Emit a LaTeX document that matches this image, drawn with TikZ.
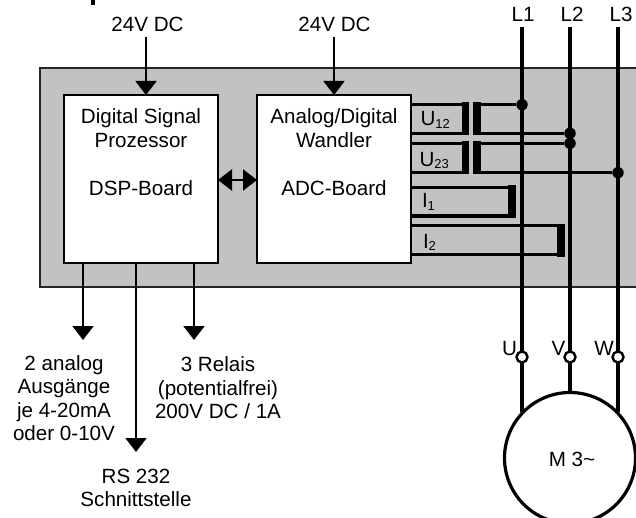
\documentclass[tikz,border=0pt]{standalone}
\usepackage{fontspec}
\setmainfont{Liberation Sans}
\usetikzlibrary{arrows.meta}
\newcommand{\subsc}[1]{{\fontsize{13}{13}\selectfont\raisebox{-2.5pt}{#1}}}
\tikzset{
  txt/.style={font=\fontsize{20.6}{23.8}\selectfont,inner sep=0pt,outer sep=0pt,align=center,text=black},
  lbl/.style={txt,anchor=base},
  lblw/.style={txt,anchor=base west},
  boardbox/.style={draw=black,line width=1.7pt,fill=white,minimum width=154pt,minimum height=168pt,inner sep=0pt,outer sep=0pt},
  panel/.style={draw=black!85,line width=1.4pt,fill=black!24},
  arrowline/.style={line width=2pt,-{Triangle[width=21pt,length=14pt]}},
  dblarrow/.style={line width=2.4pt,{Triangle[width=21pt,length=14pt]}-{Triangle[width=21pt,length=14pt]}},
  wire/.style={line width=3.2pt,draw=black},
  bar/.style={fill=black,minimum width=7.6pt,minimum height=33pt,inner sep=0pt,outer sep=0pt},
  dot/.style={circle,fill=black,minimum size=11.5pt,inner sep=0pt,outer sep=0pt},
  terminal/.style={circle,draw=black,line width=2.4pt,fill=white,minimum size=11pt,inner sep=0pt,outer sep=0pt},
  motorc/.style={circle,draw=black,line width=3.2pt,fill=white,minimum size=131pt,inner sep=0pt,outer sep=0pt}
}
\begin{document}
\begin{tikzpicture}[x=1pt,y=-1pt]
\useasboundingbox (0,0) rectangle (636,518);
\clip (0,0) rectangle (636,518);
\fill[white] (0,0) rectangle (636,518);
\fill[black] (91.3,0) rectangle (94.5,5);
\draw[panel] (40,68) rectangle (645,287);
% boards
\node[boardbox] (dsp) at (141,179) {};
\node[boardbox] (adc) at (334,179) {};
\node[lbl] at (141,124) {Digital Signal};
\node[lbl] at (141,148) {Prozessor};
\node[lbl] at (141,196) {DSP-Board};
\node[lbl] at (334,124) {Analog/Digital};
\node[lbl] at (334,148) {Wandler};
\node[lbl] at (334,196) {ADC-Board};
% supplies
\node[lbl] (s1) at (147.5,32) {24V DC};
\node[lbl] (s2) at (334.5,32) {24V DC};
\coordinate (s1e) at (146,37);
\coordinate (s2e) at (334,37);
\draw[arrowline] (s1e) -- (s1e |- dsp.north);
\draw[arrowline] (s2e) -- (s2e |- adc.north);
% board link
\draw[dblarrow] (dsp.east |- 0,180) -- (adc.west |- 0,180);
% outputs
\coordinate (o1) at (83,340);
\coordinate (o2) at (136,452);
\coordinate (o3) at (194,340);
\draw[arrowline] (o1 |- dsp.south) -- (o1);
\draw[arrowline] (o2 |- dsp.south) -- (o2);
\draw[arrowline] (o3 |- dsp.south) -- (o3);
\node[lbl] at (64,370) {2 analog};
\node[lbl] at (64,393.5) {Ausgänge};
\node[lbl] at (64,417) {je 4-20mA};
\node[lbl] at (64,440.5) {oder 0-10V};
\node[lbl] at (218,371.5) {3 Relais};
\node[lbl] at (218,395) {(potentialfrei)};
\node[lbl] at (218,418) {200V DC / 1A};
\node[lbl] at (136,483) {RS 232};
\node[lbl] at (136,506.5) {Schnittstelle};
% phases
\node[lbl] (l1) at (523,22) {L1};
\node[lbl] (l2) at (572,22) {L2};
\node[lbl] (l3) at (621,22) {L3};
\coordinate (t1) at (522,27);
\coordinate (t2) at (570,27);
\coordinate (t3) at (618,27);
\node[motorc] (motor) at (570,458) {};
\node[terminal] (tu) at (522,357) {};
\node[terminal] (tv) at (570,357) {};
\node[terminal] (tw) at (618,357) {};
\draw[wire] (t1) -- (tu);
\draw[wire] (t2) -- (tv);
\draw[wire] (t3) -- (tw);
\draw[wire] (tu) -- (tu |- motor.135);
\draw[wire] (tv) -- (motor.north);
\draw[wire] (tw) -- (tw |- motor.45);
\node[lbl] at (509.5,355) {U};
\node[lbl] at (558.5,355) {V};
\node[lbl] at (604,355) {W};
\node[lbl] at (572,466) {M 3\textasciitilde};
% measuring windings
\node[dot] (j1) at (522,104.7) {};
\node[dot] (j2) at (570,133.3) {};
\node[dot] (j3) at (570,143.3) {};
\node[dot] (j4) at (618,172.7) {};
\node[bar] (b1) at (465.4,119) {};
\node[bar] (b2) at (476.8,119) {};
\node[bar] (b3) at (465.4,158) {};
\node[bar] (b4) at (476.8,158) {};
\node[bar] (b5) at (511.8,201.7) {};
\node[bar] (b6) at (561,240.2) {};
\draw[wire] (adc.east |- j1) -- (b1.center |- j1);
\draw[wire] (adc.east |- j2) -- (b1.center |- j2);
\draw[wire] (j1) -- (b2.center |- j1);
\draw[wire] (j2) -- (b2.center |- j2);
\draw[wire] (adc.east |- j3) -- (b3.center |- j3);
\draw[wire] (adc.east |- j4) -- (b3.center |- j4);
\draw[wire] (j3) -- (b4.center |- j3);
\draw[wire] (j4) -- (b4.center |- j4);
\draw[wire] (adc.east |- 0,187.3) -- (b5.center |- 0,187.3);
\draw[wire] (adc.east |- 0,216) -- (b5.center |- 0,216);
\draw[wire] (adc.east |- 0,225.7) -- (b6.center |- 0,225.7);
\draw[wire] (adc.east |- 0,254.7) -- (b6.center |- 0,254.7);
\node[lblw] at (420.5,126) {U\subsc{12}};
\node[lblw] at (419.5,166.5) {U\subsc{23}};
\node[lblw] at (422,208) {I\subsc{1}};
\node[lblw] at (423,248) {I\subsc{2}};
\end{tikzpicture}
\end{document}
